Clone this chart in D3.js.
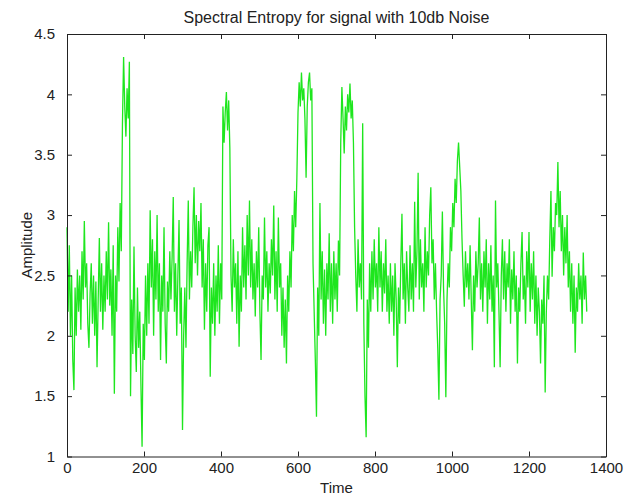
<!DOCTYPE html>
<html lang="en">
<head>
<meta charset="utf-8">
<title>Spectral Entropy for signal with 10db Noise</title>
<script type="text/javascript" src="https://cdn.jsdelivr.net/npm/d3@7"></script>
<style>
  body { margin: 0; background: #fff; }
  text { font-family: "Liberation Sans", Arial, sans-serif; fill: #222; }
</style>
</head>
<body>
<script type="text/javascript">
// samples every 3 time units (one row = 30 time units)
let sampleStep = 3

let amplitude = [
  2.9, 2.2, 2.75, 2.0, 2.5, 1.8, 1.55, 2.4, 2.0, 2.55,      // 0
  2.2, 2.5, 2.05, 2.7, 2.3, 2.95, 2.4, 2.6, 2.1, 1.9,       // 30
  2.35, 2.6, 2.1, 2.5, 2.0, 2.45, 1.74, 2.3, 2.81, 2.2,     // 60
  2.6, 2.05, 2.5, 2.2, 2.7, 2.3, 2.94, 2.25, 2.55, 2.0,     // 90
  2.75, 1.52, 2.5, 2.2, 2.9, 2.45, 3.1, 2.7, 3.75, 4.31,    // 120
  3.9, 3.65, 4.05, 3.8, 4.27, 1.5, 2.3, 1.85, 2.74, 2.0,    // 150
  1.7, 2.4, 1.9, 2.2, 1.6, 1.08, 2.1, 1.8, 2.5, 2.0,        // 180
  2.6, 2.1, 3.04, 2.4, 2.8, 2.0, 2.7, 2.3, 3.0, 2.2,        // 210
  2.6, 1.8, 2.5, 2.2, 2.9, 2.1, 1.77, 2.45, 2.2, 2.7,       // 240
  2.3, 2.65, 3.15, 2.2, 2.6, 2.0, 2.5, 2.96, 2.1, 2.4,      // 270
  1.22, 2.0, 2.4, 1.9, 2.6, 3.12, 2.3, 2.7, 2.4, 2.9,       // 300
  3.23, 2.6, 3.0, 2.5, 2.95, 2.7, 3.1, 2.4, 2.8, 2.05,      // 330
  2.6, 2.2, 2.75, 2.9, 1.66, 2.4, 2.1, 2.6, 2.0, 2.5,       // 360
  2.2, 2.75, 2.1, 2.6, 2.3, 3.9, 3.6, 3.85, 4.02, 3.7,      // 390
  3.95, 3.55, 2.5, 2.2, 2.8, 2.4, 2.6, 2.1, 2.7, 1.91,      // 420
  2.5, 2.2, 2.9, 2.4, 2.75, 2.3, 3.0, 2.5, 3.12, 2.4,       // 450
  2.8, 2.3, 2.6, 2.16, 2.7, 2.4, 2.9, 2.2, 1.8, 2.5,        // 480
  2.3, 2.98, 2.4, 2.7, 2.2, 2.6, 2.35, 2.8, 2.5, 3.08,      // 510
  2.3, 2.7, 2.2, 2.98, 2.4, 2.6, 2.0, 2.4, 1.9, 2.3,        // 540
  1.77, 2.5, 2.2, 2.7, 2.4, 3.0, 2.7, 3.2, 2.9, 3.3,        // 570
  3.85, 4.1, 3.9, 4.18, 3.95, 4.05, 3.8, 3.31, 3.9, 4.1,    // 600
  4.18, 3.95, 4.05, 2.6, 2.2, 1.8, 1.33, 2.4, 2.0, 3.1,     // 630
  2.3, 2.7, 2.1, 2.55, 2.0, 2.6, 2.3, 2.85, 2.2, 2.6,       // 660
  2.1, 2.7, 2.3, 2.6, 2.2, 2.79, 2.5, 3.6, 4.06, 3.8,       // 690
  3.51, 3.9, 3.7, 4.0, 3.85, 4.09, 3.8, 3.95, 3.6, 2.9,     // 720
  2.5, 2.2, 2.8, 2.4, 2.6, 2.3, 3.76, 2.1, 1.5, 1.16,       // 750
  2.3, 1.9, 2.6, 2.2, 2.7, 2.3, 2.8, 2.4, 2.6, 2.2,         // 780
  2.9, 2.4, 2.7, 2.2, 2.6, 2.35, 2.8, 2.2, 2.5, 2.1,        // 810
  2.6, 2.2, 2.5, 2.0, 2.6, 2.3, 1.74, 2.4, 2.1, 2.6,        // 840
  3.01, 2.3, 2.6, 2.1, 2.7, 2.4, 2.2, 2.75, 2.3, 2.6,       // 870
  2.2, 3.11, 2.4, 2.7, 3.35, 2.3, 2.8, 2.4, 2.6, 2.2,       // 900
  2.9, 2.4, 2.7, 2.5, 3.0, 3.23, 2.6, 2.8, 2.3, 2.6,        // 930
  2.2, 1.9, 1.47, 2.3, 2.5, 3.03, 2.4, 2.1, 1.49, 2.3,      // 960
  2.6, 2.4, 2.9, 2.7, 3.1, 2.9, 3.3, 3.1, 3.45, 3.6,        // 990
  3.4, 3.2, 2.8, 2.5, 2.24, 2.7, 2.4, 2.6, 2.3, 2.75,       // 1020
  2.3, 1.88, 2.5, 2.2, 2.7, 2.4, 2.6, 2.98, 2.3, 2.6,       // 1050
  2.2, 2.7, 2.4, 2.8, 2.1, 2.6, 2.3, 2.75, 2.2, 2.5,        // 1080
  1.74, 3.12, 2.4, 2.6, 2.2, 1.74, 2.5, 2.8, 2.3, 2.7,      // 1110
  2.2, 2.6, 2.4, 2.8, 2.1, 2.55, 2.3, 2.7, 2.2, 2.5,        // 1140
  1.77, 2.4, 2.2, 2.6, 2.86, 2.3, 2.5, 2.1, 2.7, 2.4,       // 1170
  2.86, 2.2, 2.6, 2.3, 2.7, 2.1, 2.5, 2.0, 2.4, 2.2,        // 1200
  1.77, 2.3, 2.1, 2.5, 1.53, 2.2, 2.5, 2.3, 2.8, 3.2,       // 1230
  2.49, 2.9, 2.7, 3.1, 3.0, 3.44, 2.9, 3.2, 2.7, 3.0,       // 1260
  2.5, 2.9, 2.6, 3.0, 2.4, 2.7, 2.2, 2.6, 2.1, 2.5,         // 1290
  1.86, 2.4, 2.2, 2.6, 2.3, 2.5, 2.1, 2.69, 2.3, 2.5,       // 1320
  2.2                                                        // 1350
]

let xTicks = [0, 200, 400, 600, 800, 1000, 1200, 1400]
let yTicks = [1, 1.5, 2, 2.5, 3, 3.5, 4, 4.5]

let titleText = "Spectral Entropy for signal with 10db Noise"
let xLabel = "Time"
let yLabel = "Amplitude"

let w = 625
let h = 500
let plotLeft = 67, plotRight = 606, plotTop = 34, plotBottom = 456.5

let dataset = amplitude.map((v, i) => [i * sampleStep, v])

let xScale = d3.scaleLinear()
  .domain([0, 1400])
  .range([plotLeft, plotRight])

let yScale = d3.scaleLinear()
  .domain([1, 4.5])
  .range([plotBottom, plotTop])

let svg = d3.select("body")
  .append("svg")
  .attr("width", w)
  .attr("height", h)

let line = d3.line()
  .x((d) => xScale(d[0]))
  .y((d) => yScale(d[1]))

svg.append("path")
  .datum(dataset)
  .attr("fill", "none")
  .attr("stroke", "#1ee61e")
  .attr("stroke-width", 1.3)
  .attr("d", line)

// box with inward ticks on all four sides
let fmt = (d) => d3.format("")(d)

svg.append("g")
  .attr("class", "x axis")
  .attr("transform", "translate(0," + plotBottom + ")")
  .call(d3.axisBottom(xScale).tickValues(xTicks).tickFormat(fmt).tickSizeInner(-5).tickSizeOuter(0).tickPadding(6))

svg.append("g")
  .attr("transform", "translate(0," + plotTop + ")")
  .call(d3.axisTop(xScale).tickValues(xTicks).tickFormat("").tickSizeInner(-5).tickSizeOuter(0))

svg.append("g")
  .attr("class", "y axis")
  .attr("transform", "translate(" + plotLeft + ",0)")
  .call(d3.axisLeft(yScale).tickValues(yTicks).tickFormat(fmt).tickSizeInner(-5).tickSizeOuter(0).tickPadding(12))

svg.append("g")
  .attr("transform", "translate(" + plotRight + ",0)")
  .call(d3.axisRight(yScale).tickValues(yTicks).tickFormat("").tickSizeInner(-5).tickSizeOuter(0))

svg.selectAll(".domain, .tick line").attr("stroke", "#222")
svg.selectAll(".tick text").attr("font-size", 15).attr("font-family", null)

svg.append("text")
  .attr("x", (plotLeft + plotRight) / 2)
  .attr("y", 23)
  .attr("text-anchor", "middle")
  .attr("font-size", 16)
  .text(titleText)

svg.append("text")
  .attr("x", (plotLeft + plotRight) / 2)
  .attr("y", 493)
  .attr("text-anchor", "middle")
  .attr("font-size", 15)
  .text(xLabel)

svg.append("text")
  .attr("transform", "translate(32," + (plotTop + plotBottom) / 2 + ") rotate(-90)")
  .attr("text-anchor", "middle")
  .attr("font-size", 15)
  .text(yLabel)
</script>
</body>
</html>
